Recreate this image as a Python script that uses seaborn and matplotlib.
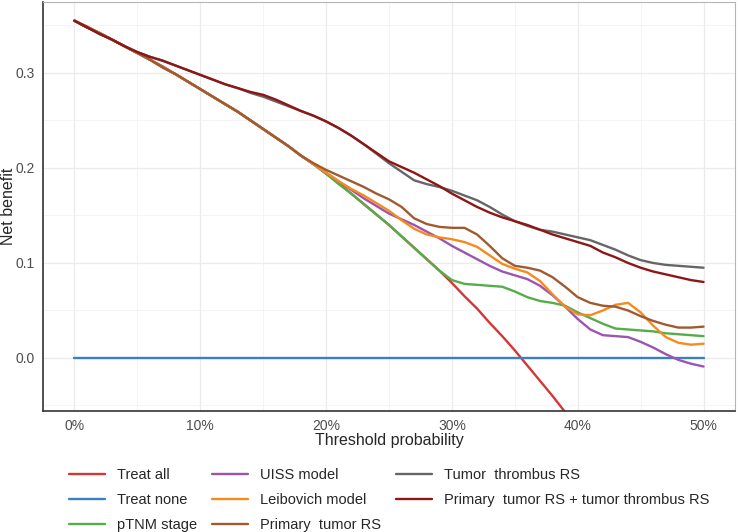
import numpy as np
import pandas as pd
import matplotlib
matplotlib.use("Agg")
import matplotlib.pyplot as plt
import seaborn as sns
from matplotlib.ticker import MultipleLocator, FixedLocator

# threshold grid (0% .. 50%)
thresholds = [round(0.01 * i, 2) for i in range(51)]

# net benefit curves
treat_all = [0.355, 0.349, 0.342, 0.335, 0.328, 0.321, 0.314, 0.307, 0.299, 0.291,
             0.283, 0.275, 0.267, 0.259, 0.250, 0.241, 0.232, 0.223, 0.213, 0.204,
             0.194, 0.184, 0.173, 0.162, 0.151, 0.140, 0.128, 0.116, 0.104, 0.092,
             0.079, 0.065, 0.052, 0.037, 0.023, 0.008, -0.008, -0.024, -0.040, -0.057,
             -0.075]
treat_none = [0.0] * 51

early = [0.355, 0.348, 0.342, 0.335, 0.328, 0.321, 0.314, 0.306, 0.299, 0.291,
         0.283, 0.275, 0.267, 0.259, 0.250, 0.241, 0.232, 0.223, 0.213]

ptnm = early + [0.204, 0.194, 0.183, 0.173, 0.162, 0.151, 0.140, 0.128, 0.116, 0.104,
                0.092, 0.082, 0.078, 0.077, 0.076, 0.075, 0.070, 0.064, 0.060, 0.058,
                0.055, 0.048, 0.042, 0.036, 0.031, 0.030, 0.029, 0.028, 0.026, 0.025,
                0.024, 0.023]
uiss = early + [0.204, 0.195, 0.186, 0.177, 0.168, 0.160, 0.152, 0.146, 0.140, 0.133,
                0.126, 0.118, 0.111, 0.104, 0.097, 0.091, 0.087, 0.083, 0.076, 0.066,
                0.054, 0.041, 0.030, 0.024, 0.023, 0.022, 0.017, 0.011, 0.004, -0.002,
                -0.006, -0.009]
leibovich = early + [0.204, 0.195, 0.186, 0.178, 0.171, 0.163, 0.155, 0.145, 0.136, 0.130,
                     0.127, 0.125, 0.122, 0.117, 0.108, 0.099, 0.094, 0.090, 0.081, 0.067,
                     0.054, 0.046, 0.045, 0.050, 0.056, 0.058, 0.048, 0.034, 0.022, 0.016,
                     0.014, 0.015]
primary_rs = early + [0.205, 0.198, 0.192, 0.186, 0.180, 0.173, 0.167, 0.159, 0.147, 0.141,
                      0.138, 0.137, 0.137, 0.130, 0.118, 0.105, 0.097, 0.095, 0.092, 0.085,
                      0.075, 0.064, 0.058, 0.055, 0.054, 0.050, 0.044, 0.039, 0.035, 0.032,
                      0.032, 0.033]
thrombus_rs = [0.355, 0.348, 0.341, 0.335, 0.328, 0.322, 0.317, 0.313, 0.308, 0.303,
               0.298, 0.293, 0.288, 0.284, 0.279, 0.275, 0.270, 0.265, 0.260, 0.255,
               0.249, 0.242, 0.234, 0.225, 0.215, 0.205, 0.196, 0.187, 0.183, 0.180,
               0.176, 0.171, 0.166, 0.159, 0.151, 0.144, 0.139, 0.135, 0.133, 0.130,
               0.127, 0.124, 0.119, 0.114, 0.108, 0.103, 0.100, 0.098, 0.097, 0.096,
               0.095]
combined_rs = [0.355, 0.348, 0.341, 0.335, 0.328, 0.322, 0.317, 0.313, 0.308, 0.303,
               0.298, 0.293, 0.288, 0.284, 0.280, 0.277, 0.272, 0.266, 0.260, 0.255,
               0.249, 0.242, 0.234, 0.225, 0.216, 0.207, 0.201, 0.195, 0.188, 0.181,
               0.173, 0.166, 0.159, 0.153, 0.148, 0.144, 0.140, 0.135, 0.130, 0.126,
               0.122, 0.118, 0.111, 0.106, 0.100, 0.095, 0.091, 0.088, 0.085, 0.082,
               0.080]

labels = ["Treat all", "Treat none", "pTNM stage", "UISS model", "Leibovich model",
          "Primary  tumor RS", "Tumor  thrombus RS",
          "Primary  tumor RS + tumor thrombus RS"]
series = [treat_all, treat_none, ptnm, uiss, leibovich, primary_rs, thrombus_rs, combined_rs]
colors = ["#D73535", "#3B80BE", "#55AD4A", "#9B55B0", "#F58A1F", "#A05A30", "#666666", "#8E1616"]

rows = []
for lab, vals in zip(labels, series):
    for t, v in zip(thresholds, vals):
        rows.append({"threshold": t, "net_benefit": v, "model": lab})
df = pd.DataFrame(rows)

sns.set_style("white")
plt.rcParams["font.family"] = ["Liberation Sans", "DejaVu Sans"]

fig = plt.figure(figsize=(7.38, 5.32), dpi=100)
ax = fig.add_axes([43 / 738, 1 - 411 / 532, (735 - 43) / 738, (411 - 2) / 532])

sns.lineplot(data=df, x="threshold", y="net_benefit", hue="model", hue_order=labels,
             palette=dict(zip(labels, colors)), estimator=None, linewidth=1.7, ax=ax)

ax.set_xlim(-0.025, 0.525)
ax.set_ylim(-0.0558, 0.3747)
ax.xaxis.set_major_locator(FixedLocator([0, 0.1, 0.2, 0.3, 0.4, 0.5]))
ax.set_xticklabels(["0%", "10%", "20%", "30%", "40%", "50%"])
ax.yaxis.set_major_locator(FixedLocator([0, 0.1, 0.2, 0.3]))
ax.set_yticklabels(["0.0", "0.1", "0.2", "0.3"])
ax.xaxis.set_minor_locator(MultipleLocator(0.05))
ax.yaxis.set_minor_locator(FixedLocator([-0.05, 0.05, 0.15, 0.25, 0.35]))
ax.grid(which="major", color="#EBEBEB", linewidth=0.9)
ax.grid(which="minor", color="#F2F2F2", linewidth=0.6)
ax.set_axisbelow(True)

ax.tick_params(which="major", length=3, width=0.8, color="#333333",
               labelcolor="#4D4D4D", labelsize=10, pad=3)
ax.tick_params(which="minor", length=0)
for s in ["left", "bottom"]:
    ax.spines[s].set_color("#333333")
    ax.spines[s].set_linewidth(1.2)
for s in ["top", "right"]:
    ax.spines[s].set_color("#B5B5B5")
    ax.spines[s].set_linewidth(0.8)

ax.set_xlabel("Threshold probability", fontsize=11.5)
ax.set_ylabel("Net benefit", fontsize=11.5)
ax.xaxis.set_label_coords(0.5, -(441 - 411) / 409, transform=ax.transAxes)
ax.yaxis.set_label_coords(-(43 - 9) / 692, 0.5, transform=ax.transAxes)
ax.xaxis.label.set_va("center")
ax.yaxis.label.set_va("center")

handles, labs = ax.get_legend_handles_labels()
ax.get_legend().remove()
fig.legend(handles, labs, loc="upper center", bbox_to_anchor=(389 / 738, 1 - 468 / 532),
           ncol=3, frameon=False, fontsize=10.5, handlelength=2.5, handletextpad=0.8,
           columnspacing=1.0, labelspacing=0.75, borderpad=0, borderaxespad=0)

fig.savefig("out.png", dpi=100)
